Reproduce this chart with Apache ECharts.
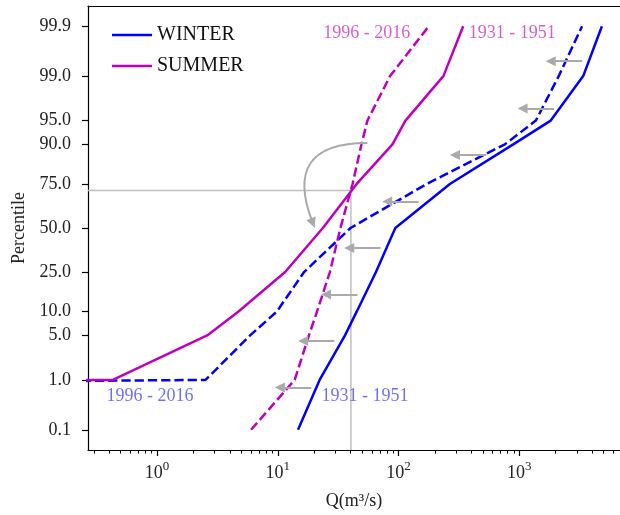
<!DOCTYPE html>
<html>
<head>
<meta charset="utf-8">
<script src="https://cdn.jsdelivr.net/npm/echarts@6/dist/echarts.min.js"></script>
<style>
  html, body { margin: 0; padding: 0; background: #fff; }
  #chart { width: 620px; height: 515px; }
</style>
</head>
<body>
<div id="chart"></div>
<script>
// percentile levels (%) the flow curves were read at
const percentiles = [0.1, 1, 5, 10, 25, 50, 75, 90, 95, 99, 99.9]

// Q (m3/s) at each percentile, 0 = no flow (clipped off the log axis)
const winter1931 = [14.7, 22.2, 36, 45, 65, 94, 266, 890, 1820, 3380, 4830]
const winter1996 = [0, 2.52, 5.9, 9.8, 16.5, 40, 171, 760, 1370, 2120, 3310]
const summer1931 = [0, 0.43, 2.6, 4.7, 11.5, 23.6, 45, 89, 114, 235, 343]
const summer1996 = [6.0, 13.8, 18.1, 21.1, 27, 33, 41.6, 49.3, 55.2, 85, 178]

// axis ticks
const yTickPct = [0.1, 1, 5, 10, 25, 50, 75, 90, 95, 99, 99.9]
const yTickLabels = ['0.1', '1.0', '5.0', '10.0', '25.0', '50.0', '75.0', '90.0', '95.0', '99.0', '99.9']
const xTickExp = [0, 1, 2, 3]
const xRangeQ = [0.268, 6820]
const yRangeZ = [-3.4, 3.4]

// period labels
const periodLabels = ['1996 - 2016', '1931 - 1951', '1996 - 2016', '1931 - 1951']
const periodLabelQ = [23.6, 377, 0.377, 22.8]
const periodLabelPct = [99.857, 99.857, 0.507, 0.507]
const periodLabelSeason = ['summer', 'summer', 'winter', 'winter']

// gray shift arrows (tail -> head)
const arrowPct = [99.47, 96.65, 86.82, 65.7, 38.0, 15.4, 4.17, 0.73]
const arrowTailQ = [3313, 1937, 533, 146.6, 71.0, 45.7, 29.4, 18.9]
const arrowHeadQ = [1820, 1064, 293, 80.5, 39.0, 25.1, 16.2, 10.4]

// curved arrow and the crossing guide lines
const curveFrom = [55.2, 90.35]
const curveTo = [19.5, 53.0]
const crossQ = 40.3
const crossPct = 71.7

const FONT = 'Liberation Serif'
const BLUE = '#0000ff'
const MAGENTA = '#bf00bf'
const GRAY = '#aaaaaa'

// inverse normal cdf (Acklam) -> probability axis
function probit(p) {
  const a = [-3.969683028665376e+01, 2.209460984245205e+02, -2.759285104469687e+02, 1.383577518672690e+02, -3.066479806614716e+01, 2.506628277459239e+00]
  const b = [-5.447609879822406e+01, 1.615858368580409e+02, -1.556989798598866e+02, 6.680131188771972e+01, -1.328068155288572e+01]
  const c = [-7.784894002430293e-03, -3.223964580411365e-01, -2.400758277161838e+00, -2.549732539343734e+00, 4.374664141464968e+00, 2.938163982698783e+00]
  const d = [7.784695709041462e-03, 3.224671290700398e-01, 2.445134137142996e+00, 3.754408661907416e+00]
  const pl = 0.02425
  if (p < pl) {
    const q = Math.sqrt(-2 * Math.log(p))
    return (((((c[0] * q + c[1]) * q + c[2]) * q + c[3]) * q + c[4]) * q + c[5]) / ((((d[0] * q + d[1]) * q + d[2]) * q + d[3]) * q + 1)
  }
  if (p > 1 - pl) {
    const q = Math.sqrt(-2 * Math.log(1 - p))
    return -(((((c[0] * q + c[1]) * q + c[2]) * q + c[3]) * q + c[4]) * q + c[5]) / ((((d[0] * q + d[1]) * q + d[2]) * q + d[3]) * q + 1)
  }
  const q = p - 0.5
  const r = q * q
  return (((((a[0] * r + a[1]) * r + a[2]) * r + a[3]) * r + a[4]) * r + a[5]) * q / (((((b[0] * r + b[1]) * r + b[2]) * r + b[3]) * r + b[4]) * r + 1)
}
const toY = pct => probit(pct / 100)
const toX = q => q > 0 ? Math.log10(q) : -50

const xMin = toX(xRangeQ[0])
const xMax = toX(xRangeQ[1])
const yTickZ = yTickPct.map(toY)

// minor ticks 2..9 x 10^n
const minorTicks = []
for (let e = -1; e <= 3; e++) {
  for (let k = 2; k <= 9; k++) {
    const v = Math.log10(k * Math.pow(10, e))
    if (v >= xMin && v <= xMax) minorTicks.push(v)
  }
}

const makeLine = (name, vals, color, dashed) => ({
  name: name,
  type: 'line',
  data: vals.map((q, i) => [toX(q), toY(percentiles[i])]),
  symbol: 'none',
  showSymbol: false,
  clip: true,
  lineStyle: { color: color, width: 2.5, type: dashed ? [9.25, 4] : 'solid' },
  itemStyle: { color: color },
  z: 3
})

const labelColor = s => s === 'winter' ? 'rgba(0,0,255,0.72)' : 'rgba(191,0,191,0.8)'

const chart = echarts.init(document.getElementById('chart'))
const option = {
  animation: false,
  textStyle: { fontFamily: FONT },
  grid: { left: 88, right: -5, top: 6, bottom: 64 },
  legend: {
    data: ['WINTER', 'SUMMER'],
    orient: 'vertical',
    left: 107,
    top: 20,
    icon: 'rect',
    itemWidth: 40,
    itemHeight: 2.5,
    itemGap: 11,
    selectedMode: false,
    textStyle: { fontFamily: FONT, fontSize: 20, color: '#111', lineHeight: 20 }
  },
  xAxis: [
    {
      type: 'value',
      min: xMin,
      max: xMax,
      position: 'bottom',
      axisLine: { onZero: false, lineStyle: { color: '#000', width: 1.2 } },
      axisTick: { customValues: xTickExp, length: 6, lineStyle: { color: '#000', width: 1.2 } },
      axisLabel: {
        customValues: xTickExp,
        margin: 10,
        formatter: v => '{b|10}{s|' + Math.round(v) + '}',
        rich: {
          b: { fontFamily: FONT, fontSize: 18, color: '#222', lineHeight: 22, verticalAlign: 'bottom' },
          s: { fontFamily: FONT, fontSize: 13, color: '#222', lineHeight: 13, verticalAlign: 'top' }
        }
      },
      splitLine: { show: false },
      name: 'Q(m³/s)',
      nameLocation: 'middle',
      nameGap: 42,
      nameTextStyle: { fontFamily: FONT, fontSize: 18, color: '#222' }
    },
    {
      type: 'value',
      min: xMin,
      max: xMax,
      position: 'bottom',
      axisLine: { show: false, onZero: false },
      axisTick: { customValues: minorTicks, length: 3.5, lineStyle: { color: '#000', width: 1 } },
      axisLabel: { show: false },
      splitLine: { show: false }
    },
    {
      type: 'value',
      min: xMin,
      max: xMax,
      position: 'top',
      axisLine: { onZero: false, lineStyle: { color: '#000', width: 1.2 } },
      axisTick: { show: false },
      axisLabel: { show: false },
      splitLine: { show: false }
    }
  ],
  yAxis: {
    type: 'value',
    min: yRangeZ[0],
    max: yRangeZ[1],
    axisLine: { onZero: false, lineStyle: { color: '#000', width: 1.2 } },
    axisTick: { customValues: yTickZ, length: 6, lineStyle: { color: '#000', width: 1.2 } },
    axisLabel: {
      customValues: yTickZ,
      margin: 17,
      fontFamily: FONT,
      fontSize: 18,
      color: '#222',
      formatter: v => {
        let best = 0
        yTickZ.forEach((z, i) => { if (Math.abs(z - v) < Math.abs(yTickZ[best] - v)) best = i })
        return yTickLabels[best]
      }
    },
    splitLine: { show: false },
    name: 'Percentile',
    nameLocation: 'middle',
    nameGap: 60,
    nameRotate: 90,
    nameTextStyle: { fontFamily: FONT, fontSize: 18, color: '#222' }
  },
  series: [
    // guide lines through the crossing of the summer curves
    {
      type: 'line',
      data: [[xMin, toY(crossPct)], [toX(crossQ), toY(crossPct)], [toX(crossQ), yRangeZ[0]]],
      symbol: 'none',
      lineStyle: { color: '#c0c0c0', width: 1.5 },
      z: 1,
      silent: true
    },
    makeLine('WINTER', winter1931, BLUE, false),
    makeLine('WINTER 1996-2016', winter1996, BLUE, true),
    makeLine('SUMMER', summer1931, MAGENTA, false),
    makeLine('SUMMER 1996-2016', summer1996, MAGENTA, true),
    {
      type: 'lines',
      coordinateSystem: 'cartesian2d',
      symbol: ['none', 'triangle'],
      symbolSize: 10,
      lineStyle: { color: GRAY, width: 2, opacity: 1, curveness: 0 },
      z: 4,
      data: arrowPct.map((p, i) => ({
        coords: [[toX(arrowTailQ[i]), toY(p)], [toX(arrowHeadQ[i]), toY(p)]]
      })).concat([{
        coords: [[toX(curveFrom[0]), toY(curveFrom[1])], [toX(curveTo[0]), toY(curveTo[1])]],
        lineStyle: { curveness: -0.735 }
      }])
    },
    {
      type: 'scatter',
      symbolSize: 1,
      itemStyle: { color: 'rgba(0,0,0,0)' },
      silent: true,
      z: 5,
      label: { show: true, position: 'right', distance: 0, fontFamily: FONT, fontSize: 18 },
      data: periodLabels.map((t, i) => ({
        value: [toX(periodLabelQ[i]), toY(periodLabelPct[i])],
        label: { formatter: t, color: labelColor(periodLabelSeason[i]) }
      }))
    }
  ]
}
chart.setOption(option)

window.addEventListener('resize', () => {
  chart.resize()
})
</script>
</body>
</html>
